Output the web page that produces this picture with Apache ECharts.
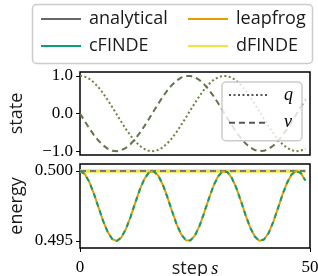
<!DOCTYPE html>
<html>
<head>
<meta charset="utf-8">
<script src="https://cdn.jsdelivr.net/npm/echarts@6/dist/echarts.min.js"></script>
<style>
  html, body { margin: 0; padding: 0; background: #fff; }
  #chart { width: 318px; height: 276px; }
</style>
</head>
<body>
<div id="chart"></div>
<script>
// state + energy over steps, two stacked panels
var steps = [0, 1, 2, 3, 4, 5, 6, 7, 8, 9, 10, 11, 12, 13, 14, 15, 16, 17, 18, 19,
  20, 21, 22, 23, 24, 25, 26, 27, 28, 29, 30, 31, 32, 33, 34, 35, 36, 37, 38, 39,
  40, 41, 42, 43, 44, 45, 46, 47, 48, 49];

// position q and velocity v (all methods overlap)
var qValues = [1.000, 0.980, 0.921, 0.825, 0.697, 0.540, 0.362, 0.170, -0.029, -0.227,
  -0.416, -0.589, -0.737, -0.857, -0.942, -0.990, -0.998, -0.967, -0.897, -0.791,
  -0.654, -0.490, -0.307, -0.112, 0.087, 0.284, 0.469, 0.635, 0.776, 0.886,
  0.960, 0.997, 0.993, 0.950, 0.869, 0.754, 0.608, 0.439, 0.251, 0.054,
  -0.146, -0.339, -0.519, -0.679, -0.811, -0.911, -0.975, -1.000, -0.985, -0.930];
var vValues = [0.000, -0.199, -0.389, -0.565, -0.717, -0.841, -0.932, -0.985, -1.000, -0.974,
  -0.909, -0.808, -0.675, -0.516, -0.335, -0.141, 0.058, 0.256, 0.443, 0.612,
  0.757, 0.872, 0.952, 0.994, 0.996, 0.959, 0.883, 0.773, 0.631, 0.465,
  0.279, 0.083, -0.117, -0.312, -0.494, -0.657, -0.794, -0.899, -0.969, -0.999,
  -0.989, -0.941, -0.855, -0.734, -0.585, -0.412, -0.223, -0.025, 0.174, 0.366];

// energy
var leapfrogEnergy = [0.50000, 0.49980, 0.49924, 0.49840, 0.49743, 0.49646, 0.49566, 0.49514, 0.49500, 0.49526,
  0.49587, 0.49673, 0.49772, 0.49867, 0.49944, 0.49990, 0.49998, 0.49968, 0.49902, 0.49813,
  0.49714, 0.49620, 0.49547, 0.49506, 0.49504, 0.49540, 0.49610, 0.49702, 0.49801, 0.49893,
  0.49961, 0.49997, 0.49993, 0.49951, 0.49878, 0.49784, 0.49685, 0.49596, 0.49532, 0.49501,
  0.49511, 0.49557, 0.49635, 0.49731, 0.49829, 0.49915, 0.49975, 0.50000, 0.49985, 0.49932];
var cfindeEnergy = [0.50000, 0.49980, 0.49924, 0.49840, 0.49743, 0.49646, 0.49566, 0.49514, 0.49500, 0.49526,
  0.49587, 0.49673, 0.49772, 0.49867, 0.49944, 0.49990, 0.49998, 0.49968, 0.49902, 0.49813,
  0.49714, 0.49620, 0.49547, 0.49506, 0.49504, 0.49540, 0.49610, 0.49702, 0.49801, 0.49893,
  0.49961, 0.49997, 0.49993, 0.49951, 0.49878, 0.49784, 0.49685, 0.49596, 0.49532, 0.49501,
  0.49511, 0.49557, 0.49635, 0.49731, 0.49829, 0.49915, 0.49975, 0.50000, 0.49985, 0.49932];
// flat lines: [step, energy] at the two ends
var analyticalEnergy = [[0, 0.5], [49, 0.5]];
var dfindeEnergy = [[0, 0.5], [49, 0.5]];

var stateTicks = [-1, 0, 1];
var energyTicks = [0.495, 0.5];
var stepTicks = [0, 50];

var SANS = 'Open Sans';
var SERIF = 'Liberation Serif';

function pairs(ys) {
  return steps.map(function (s, i) { return [s, ys[i]]; });
}

var chart = echarts.init(document.getElementById('chart'));

var baseLegend = {
  orient: 'vertical',
  top: 10,
  padding: 0,
  itemWidth: 40,
  itemHeight: 18,
  itemGap: 9,
  selectedMode: false,
  itemStyle: { opacity: 0 },
  textStyle: { fontFamily: SANS, fontSize: 18, color: '#1a1a1a', padding: [0, 0, 0, 3] }
};

var option = {
  animation: false,
  graphic: [{
    type: 'rect',
    shape: { x: 32.5, y: 4.5, width: 280, height: 59, r: 4 },
    style: { fill: '#fff', stroke: '#ccc', lineWidth: 1.5 },
    z: 0
  }],
  legend: [
    Object.assign({}, baseLegend, {
      left: 40,
      data: [
        { name: 'analytical', lineStyle: { type: 'solid', width: 2, color: '#666' } },
        { name: 'cFINDE', lineStyle: { type: 'solid', width: 2 } }
      ]
    }),
    Object.assign({}, baseLegend, {
      left: 187,
      data: [
        { name: 'leapfrog', lineStyle: { type: 'solid', width: 2 } },
        { name: 'dFINDE', lineStyle: { type: 'solid', width: 2 } }
      ]
    }),
    {
      orient: 'vertical',
      left: 222,
      top: 82,
      padding: [4, 9, 9, 6],
      itemWidth: 39,
      itemHeight: 18,
      itemGap: 9.7,
      selectedMode: false,
      itemStyle: { opacity: 0 },
      backgroundColor: 'rgba(255,255,255,0.8)',
      borderColor: '#ccc',
      borderWidth: 1.5,
      borderRadius: 4,
      textStyle: { fontFamily: SERIF, fontStyle: 'italic', fontSize: 18, color: '#000', padding: [0, 0, 0, 11] },
      data: [
        { name: 'q', lineStyle: { color: '#555', type: [2, 2.5], width: 2 } },
        { name: 'v', lineStyle: { color: '#555', type: [6, 4], width: 2 } }
      ]
    }
  ],
  grid: [
    { left: 80, top: 72, width: 230, height: 83, show: true, borderColor: '#000', borderWidth: 1.5, outerBoundsMode: 'none' },
    { left: 80, top: 164, width: 230, height: 84, show: true, borderColor: '#000', borderWidth: 1.5, outerBoundsMode: 'none' }
  ],
  xAxis: [
    {
      type: 'value', gridIndex: 0, min: 0, max: 50,
      axisLine: { show: false }, axisTick: { show: false },
      axisLabel: { show: false }, splitLine: { show: false }
    },
    {
      type: 'value', gridIndex: 1, min: 0, max: 50,
      axisLine: { show: false },
      axisTick: { show: true, length: 4, customValues: stepTicks, lineStyle: { color: '#000', width: 1 } },
      axisLabel: { customValues: stepTicks, margin: 11, fontFamily: SERIF, fontSize: 17, color: '#000' },
      splitLine: { show: false },
      name: '{a|step} {b|s}',
      nameLocation: 'middle',
      nameGap: 12,
      nameMoveOverlap: false,
      nameTextStyle: {
        rich: {
          a: { fontFamily: SANS, fontSize: 18, color: '#1a1a1a' },
          b: { fontFamily: SERIF, fontStyle: 'italic', fontSize: 18, color: '#000' }
        }
      }
    }
  ],
  yAxis: [
    {
      type: 'value', gridIndex: 0, min: -1.1, max: 1.1,
      axisLine: { show: false },
      axisTick: { show: true, length: 4, customValues: stateTicks, lineStyle: { color: '#000', width: 1 } },
      axisLabel: {
        customValues: stateTicks, margin: 7, fontFamily: SERIF, fontSize: 17, color: '#000',
        formatter: function (v) { return v < 0 ? '\u2212' + Math.abs(v).toFixed(1) : v.toFixed(1); }
      },
      splitLine: { show: false },
      name: 'state', nameLocation: 'middle', nameGap: 54, nameMoveOverlap: false,
      nameTextStyle: { fontFamily: SANS, fontSize: 18, color: '#1a1a1a' }
    },
    {
      type: 'value', gridIndex: 1, min: 0.4945, max: 0.5005,
      axisLine: { show: false },
      axisTick: { show: true, length: 4, customValues: energyTicks, lineStyle: { color: '#000', width: 1 } },
      axisLabel: {
        customValues: energyTicks, margin: 7, fontFamily: SERIF, fontSize: 17, color: '#000',
        formatter: function (v) { return v.toFixed(3); }
      },
      splitLine: { show: false },
      name: 'energy', nameLocation: 'middle', nameGap: 54, nameMoveOverlap: false,
      nameTextStyle: { fontFamily: SANS, fontSize: 18, color: '#1a1a1a' }
    }
  ],
  series: [
    {
      name: 'q', type: 'line', xAxisIndex: 0, yAxisIndex: 0, data: pairs(qValues),
      symbol: 'none', lineStyle: { color: '#6f7d3e', width: 2, type: [2, 2.5] }, itemStyle: { color: '#6f7d3e' }
    },
    {
      name: 'v', type: 'line', xAxisIndex: 0, yAxisIndex: 0, data: pairs(vValues),
      symbol: 'none', lineStyle: { color: '#62744a', width: 2, type: [6, 4] }, itemStyle: { color: '#62744a' }
    },
    {
      name: 'dFINDE', type: 'line', xAxisIndex: 1, yAxisIndex: 1, data: dfindeEnergy, z: 2,
      symbol: 'none', lineStyle: { color: '#f0e442', width: 3.5 }, itemStyle: { color: '#f0e442' }
    },
    {
      name: 'analytical', type: 'line', xAxisIndex: 1, yAxisIndex: 1, data: analyticalEnergy, z: 3,
      symbol: 'none', lineStyle: { color: '#777', width: 2, type: [6, 4] }, itemStyle: { color: '#666' }
    },
    {
      name: 'leapfrog', type: 'line', xAxisIndex: 1, yAxisIndex: 1, data: pairs(leapfrogEnergy), z: 3,
      symbol: 'none', lineStyle: { color: '#e69f00', width: 2 }, itemStyle: { color: '#e69f00' }
    },
    {
      name: 'cFINDE', type: 'line', xAxisIndex: 1, yAxisIndex: 1, data: pairs(cfindeEnergy), z: 4,
      symbol: 'none', lineStyle: { color: '#0d9e73', width: 2, type: [5, 4] }, itemStyle: { color: '#0d9e73' }
    }
  ]
};

chart.setOption(option);
</script>
</body>
</html>
